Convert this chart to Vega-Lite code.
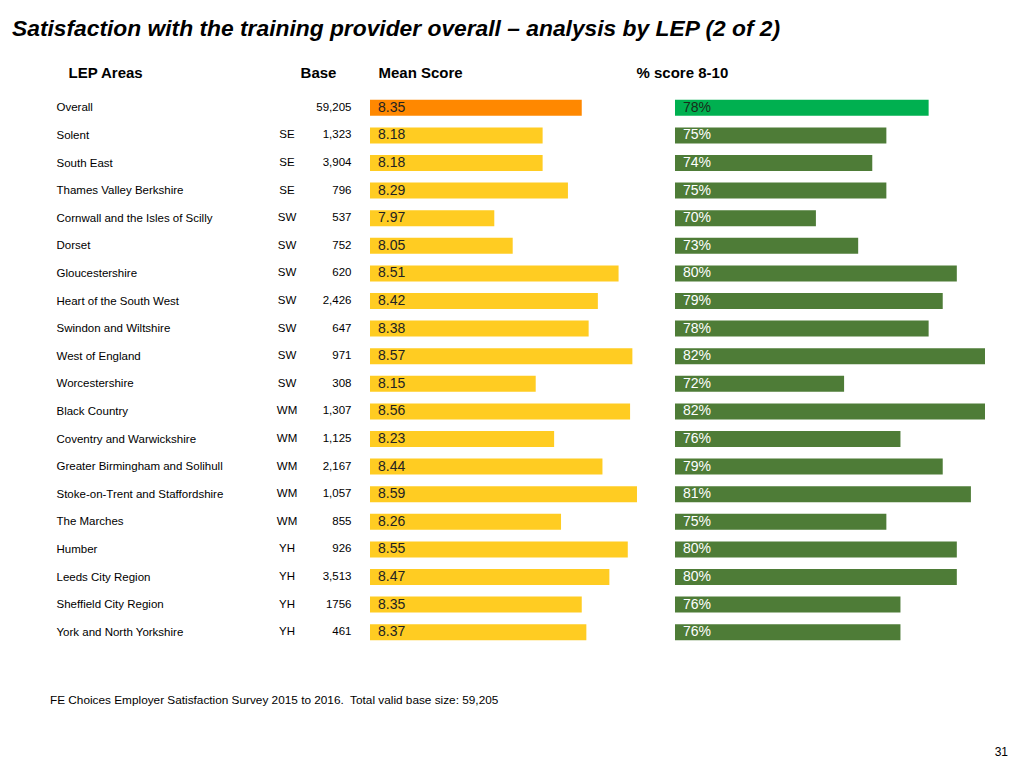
{
  "$schema": "https://vega.github.io/schema/vega-lite/v6.json",
  "padding": {"left": 12, "top": 18, "right": 0, "bottom": 0},
  "background": "white",
  "spacing": 49,
  "title": {
    "text": "Satisfaction with the training provider overall – analysis by LEP (2 of 2)",
    "anchor": "start",
    "frame": "group",
    "dx": -207,
    "offset": 24,
    "font": "Liberation Sans",
    "fontSize": 22.8,
    "fontWeight": "bold",
    "fontStyle": "italic",
    "color": "#000000"
  },
  "datasets": {
    "lep": [
      {"area": "Overall", "region": "", "base": "59,205", "mean": 8.35, "pct": 0.78, "kind": "Overall"},
      {"area": "Solent", "region": "SE", "base": "1,323", "mean": 8.18, "pct": 0.75, "kind": "LEP"},
      {"area": "South East", "region": "SE", "base": "3,904", "mean": 8.18, "pct": 0.74, "kind": "LEP"},
      {"area": "Thames Valley Berkshire", "region": "SE", "base": "796", "mean": 8.29, "pct": 0.75, "kind": "LEP"},
      {"area": "Cornwall and the Isles of Scilly", "region": "SW", "base": "537", "mean": 7.97, "pct": 0.70, "kind": "LEP"},
      {"area": "Dorset", "region": "SW", "base": "752", "mean": 8.05, "pct": 0.73, "kind": "LEP"},
      {"area": "Gloucestershire", "region": "SW", "base": "620", "mean": 8.51, "pct": 0.80, "kind": "LEP"},
      {"area": "Heart of the South West", "region": "SW", "base": "2,426", "mean": 8.42, "pct": 0.79, "kind": "LEP"},
      {"area": "Swindon and Wiltshire", "region": "SW", "base": "647", "mean": 8.38, "pct": 0.78, "kind": "LEP"},
      {"area": "West of England", "region": "SW", "base": "971", "mean": 8.57, "pct": 0.82, "kind": "LEP"},
      {"area": "Worcestershire", "region": "SW", "base": "308", "mean": 8.15, "pct": 0.72, "kind": "LEP"},
      {"area": "Black Country", "region": "WM", "base": "1,307", "mean": 8.56, "pct": 0.82, "kind": "LEP"},
      {"area": "Coventry and Warwickshire", "region": "WM", "base": "1,125", "mean": 8.23, "pct": 0.76, "kind": "LEP"},
      {"area": "Greater Birmingham and Solihull", "region": "WM", "base": "2,167", "mean": 8.44, "pct": 0.79, "kind": "LEP"},
      {"area": "Stoke-on-Trent and Staffordshire", "region": "WM", "base": "1,057", "mean": 8.59, "pct": 0.81, "kind": "LEP"},
      {"area": "The Marches", "region": "WM", "base": "855", "mean": 8.26, "pct": 0.75, "kind": "LEP"},
      {"area": "Humber", "region": "YH", "base": "926", "mean": 8.55, "pct": 0.80, "kind": "LEP"},
      {"area": "Leeds City Region", "region": "YH", "base": "3,513", "mean": 8.47, "pct": 0.80, "kind": "LEP"},
      {"area": "Sheffield City Region", "region": "YH", "base": "1756", "mean": 8.35, "pct": 0.76, "kind": "LEP"},
      {"area": "York and North Yorkshire", "region": "YH", "base": "461", "mean": 8.37, "pct": 0.76, "kind": "LEP"}
    ],
    "none": []
  },
  "vconcat": [
    {
      "bounds": "flush",
      "spacing": 15,
      "hconcat": [
        {
          "data": {"name": "lep"},
          "width": 136,
          "height": 552,
          "mark": {"type": "text", "align": "center", "baseline": "middle", "font": "Liberation Sans", "fontSize": 11.5, "color": "#000000"},
          "encoding": {
            "y": {
              "field": "area", "type": "nominal", "sort": null,
              "scale": {"paddingInner": 0.42, "paddingOuter": 0.21},
              "axis": {
                "orient": "left", "labelAlign": "left", "labelPadding": 163, "ticks": false, "domain": false,
                "labelFont": "Liberation Sans", "labelFontSize": 11.5, "labelColor": "#000000", "labelLimit": 400,
                "title": "LEP Areas", "titleAngle": 0, "titleX": -151, "titleY": -22, "titleAlign": "left", "titleBaseline": "middle",
                "titleFont": "Liberation Sans", "titleFontSize": 15, "titleFontWeight": "bold", "titleColor": "#000000"
              }
            },
            "text": {"field": "region", "type": "nominal"}
          }
        },
        {
          "data": {"name": "lep"},
          "width": 290,
          "height": 552,
          "encoding": {
            "y": {
              "field": "base", "type": "nominal", "sort": null,
              "scale": {"paddingInner": 0.42, "paddingOuter": 0.21},
              "axis": {
                "orient": "left", "labelAlign": "right", "labelPadding": 19, "ticks": false, "domain": false,
                "labelFont": "Liberation Sans", "labelFontSize": 11.5, "labelColor": "#000000",
                "title": "Base", "titleAngle": 0, "titleX": -52, "titleY": -22, "titleAlign": "center", "titleBaseline": "middle",
                "titleFont": "Liberation Sans", "titleFontSize": 15, "titleFontWeight": "bold", "titleColor": "#000000"
              }
            }
          },
          "layer": [
            {
              "mark": {"type": "bar"},
              "encoding": {
                "x": {
                  "field": "mean", "type": "quantitative",
                  "scale": {"domain": [7.43, 8.69], "zero": false, "nice": false},
                  "axis": {
                    "orient": "top", "labels": false, "ticks": false, "domain": false, "grid": false,
                    "title": "Mean Score", "titleX": 8, "titleY": -22, "titleAlign": "left", "titleAnchor": "start", "titleBaseline": "middle",
                    "titleFont": "Liberation Sans", "titleFontSize": 15, "titleFontWeight": "bold", "titleColor": "#000000"
                  }
                },
                "x2": {"datum": 7.43},
                "color": {"field": "kind", "type": "nominal", "scale": {"domain": ["Overall", "LEP"], "range": ["#FF8800", "#FFCC22"]}, "legend": null}
              }
            },
            {
              "mark": {"type": "text", "align": "left", "baseline": "middle", "dx": 8, "font": "Liberation Sans", "fontSize": 14, "color": "#222222"},
              "encoding": {
                "x": {"datum": 7.43, "type": "quantitative"},
                "text": {"field": "mean", "type": "quantitative", "format": ".2f"}
              }
            }
          ]
        },
        {
          "data": {"name": "lep"},
          "width": 310,
          "height": 552,
          "encoding": {
            "y": {"field": "area", "type": "nominal", "sort": null, "scale": {"paddingInner": 0.42, "paddingOuter": 0.21}, "axis": null}
          },
          "layer": [
            {
              "mark": {"type": "bar"},
              "encoding": {
                "x": {
                  "field": "pct", "type": "quantitative",
                  "scale": {"domain": [0.60, 0.82], "zero": false, "nice": false},
                  "axis": {
                    "orient": "top", "labels": false, "ticks": false, "domain": false, "grid": false,
                    "title": "% score 8-10", "titleX": -39, "titleY": -22, "titleAlign": "left", "titleAnchor": "start", "titleBaseline": "middle",
                    "titleFont": "Liberation Sans", "titleFontSize": 15, "titleFontWeight": "bold", "titleColor": "#000000"
                  }
                },
                "x2": {"datum": 0.60},
                "color": {"field": "kind", "type": "nominal", "scale": {"domain": ["Overall", "LEP"], "range": ["#00B050", "#4E7C37"]}, "legend": null}
              }
            },
            {
              "mark": {"type": "text", "align": "left", "baseline": "middle", "dx": 8, "font": "Liberation Sans", "fontSize": 14},
              "encoding": {
                "x": {"datum": 0.60, "type": "quantitative"},
                "text": {"field": "pct", "type": "quantitative", "format": ".0%"},
                "color": {"field": "kind", "type": "nominal", "scale": {"domain": ["Overall", "LEP"], "range": ["#1a2a1a", "#FFFFFF"]}, "legend": null}
              }
            }
          ],
          "resolve": {"scale": {"color": "independent"}}
        }
      ]
    },
    {
      "bounds": "flush",
      "spacing": 0,
      "hconcat": [
        {
          "data": {"name": "none"},
          "width": 700,
          "height": 1,
          "title": {"text": "FE Choices Employer Satisfaction Survey 2015 to 2016.\u00a0 Total valid base size: 59,205", "anchor": "start", "dx": -169, "offset": 0, "baseline": "middle", "font": "Liberation Sans", "fontSize": 11.8, "fontWeight": "normal", "color": "#000000"},
          "mark": "text",
          "encoding": {}
        },
        {
          "data": {"name": "none"},
          "width": 89,
          "height": 1,
          "title": {"text": "31", "anchor": "end", "dy": 52, "offset": 0, "baseline": "middle", "font": "Liberation Sans", "fontSize": 12, "fontWeight": "normal", "color": "#000000"},
          "mark": "text",
          "encoding": {}
        }
      ]
    }
  ],
  "config": {
    "view": {"stroke": null},
    "axis": {"grid": false}
  }
}
